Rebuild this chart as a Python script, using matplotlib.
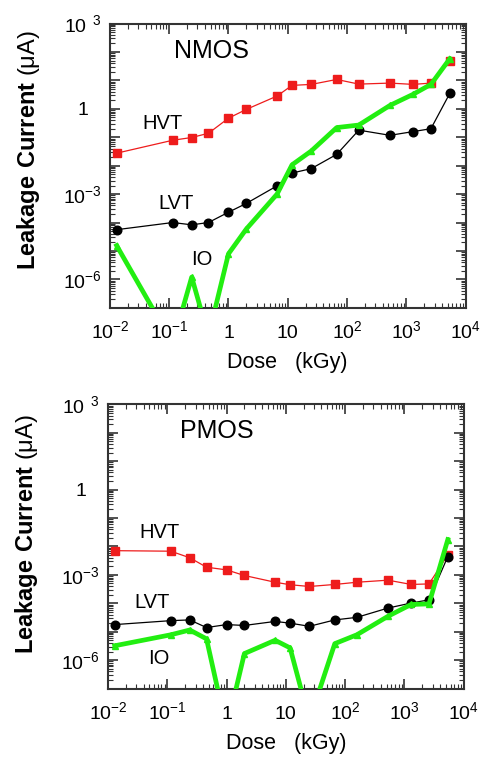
import numpy as np
import matplotlib.pyplot as plt
from matplotlib.ticker import FixedLocator, FixedFormatter, LogLocator, NullFormatter

plt.rcParams['font.family'] = ['Liberation Sans', 'DejaVu Sans']
plt.rcParams['mathtext.fontset'] = 'custom'
plt.rcParams['mathtext.rm'] = 'Liberation Sans'
plt.rcParams['mathtext.bf'] = 'Liberation Sans:bold'
plt.rcParams['mathtext.default'] = 'regular'

# dose steps (kGy), shared by both panels
dose = [0.013, 0.115, 0.24, 0.46, 1.0, 2.0, 6.6, 11.8, 25, 67, 158, 530, 1300, 2600, 5400]

# NMOS leakage current (uA)
nmos_hvt = [0.0275, 0.0785, 0.098, 0.138, 0.468, 0.955, 2.82, 6.68, 7.24, 10.8, 7.41, 8.05, 7.24, 8.05, 47.9]
nmos_lvt = [5.6e-5, 1.0e-4, 8.3e-5, 1.0e-4, 2.3e-4, 4.7e-4, 1.95e-3, 5.5e-3, 7.9e-3, 0.025, 0.178, 0.117, 0.158, 0.2, 3.47]
nmos_io = [1.55e-5, 5.5e-9, 1.2e-6, 1e-8, 7.9e-6, 5.9e-5, 1e-3, 0.0107, 0.033, 0.219, 0.269, 1.32, 3.24, 7.24, 57.5]

# PMOS leakage current (uA)
pmos_hvt = [7.1e-3, 6.8e-3, 4.0e-3, 1.86e-3, 1.5e-3, 9.5e-4, 5.5e-4, 4.5e-4, 3.9e-4, 4.6e-4, 5.5e-4, 6.5e-4, 4.6e-4, 4.8e-4, 5.0e-3]
pmos_lvt = [1.78e-5, 2.45e-5, 2.6e-5, 1.4e-5, 1.78e-5, 1.66e-5, 2.3e-5, 2.0e-5, 1.55e-5, 2.6e-5, 3.2e-5, 6.8e-5, 1.02e-4, 1.32e-4, 4.4e-3]
pmos_io = [3.2e-6, 7.8e-6, 1.15e-5, 5.6e-6, 3.8e-9, 1.7e-6, 5.0e-6, 2.7e-6, 7.6e-9, 3.8e-6, 7.8e-6, 3.5e-5, 9.1e-5, 9.5e-5, 0.0174]

x_ticks = [1e-2, 1e-1, 1, 10, 1e2, 1e3, 1e4]
x_labels = [r'$10^{-2}$', r'$10^{-1}$', '1', '10', r'$10^{2}$', r'$10^{3}$', r'$10^{4}$']
y_ticks = [1e-7, 1e-6, 1e-5, 1e-4, 1e-3, 1e-2, 1e-1, 1, 10, 100, 1e3]
y_labels = ['', r'$10^{-6}$', '', '', r'$10^{-3}$', '', '', '1', '', '', r'$10\ ^{3}$']

panels = [
    ("NMOS", [0.227, 0.595, 0.735, 0.374], nmos_hvt, nmos_lvt, nmos_io, 0.555,
     {"NMOS": (0.52, 105), "HVT": (0.078, 0.31), "LVT": (0.13, 4.5e-4), "IO": (0.356, 5.2e-6)}),
    ("PMOS", [0.223, 0.094, 0.735, 0.374], pmos_hvt, pmos_lvt, pmos_io, 0.545,
     {"PMOS": (0.69, 112), "HVT": (0.075, 0.032), "LVT": (0.055, 1.1e-4), "IO": (0.072, 1.1e-6)}),
]

fig = plt.figure(figsize=(4.84, 7.6), dpi=100)

for name, rect, hvt, lvt, io, ylab_y, texts in panels:
    ax = fig.add_axes(rect)
    ax.plot(dose, hvt, '-s', color='#ee1c1c', lw=0.9, ms=6, mec='#ee1c1c', zorder=3)
    ax.plot(dose, lvt, '-o', color='black', lw=0.9, ms=6.2, zorder=4)
    ax.plot(dose, io, '-^', color='#22ee11', lw=3.4, ms=4, mec='#22ee11', zorder=5)

    ax.set_xscale('log')
    ax.set_yscale('log')
    ax.set_xlim(1e-2, 1e4)
    ax.set_ylim(1e-7, 1e3)

    ax.xaxis.set_major_locator(FixedLocator(x_ticks))
    ax.xaxis.set_major_formatter(FixedFormatter(x_labels))
    ax.yaxis.set_major_locator(FixedLocator(y_ticks))
    ax.yaxis.set_major_formatter(FixedFormatter(y_labels))
    for axis in (ax.xaxis, ax.yaxis):
        axis.set_minor_locator(LogLocator(base=10, subs=np.arange(2, 10), numticks=20))
        axis.set_minor_formatter(NullFormatter())

    ax.tick_params(which='both', direction='in', top=True, right=True, color='#333333')
    ax.tick_params(which='major', length=7, width=1.2)
    ax.tick_params(which='minor', length=3.5, width=0.8)
    ax.tick_params(axis='x', labelsize=14, pad=22)
    ax.tick_params(axis='y', labelsize=14, pad=19.5)
    plt.setp(ax.get_xticklabels(), va='baseline')
    plt.setp(ax.get_yticklabels(), ha='center')
    for sp in ax.spines.values():
        sp.set_linewidth(1.5)
        sp.set_color('#333333')

    ax.set_xlabel('Dose   (kGy)', fontsize=15.5, labelpad=7)
    ax.set_ylabel(r'$\mathbf{Leakage\ Current}$ (μA)', fontsize=17)
    ax.yaxis.set_label_coords(-0.19, ylab_y)

    for label, (tx, ty) in texts.items():
        size = 18 if label == name else 14.5
        ax.text(tx, ty, label, fontsize=size, ha='center', va='center')

fig.savefig('out.png', dpi=100)
